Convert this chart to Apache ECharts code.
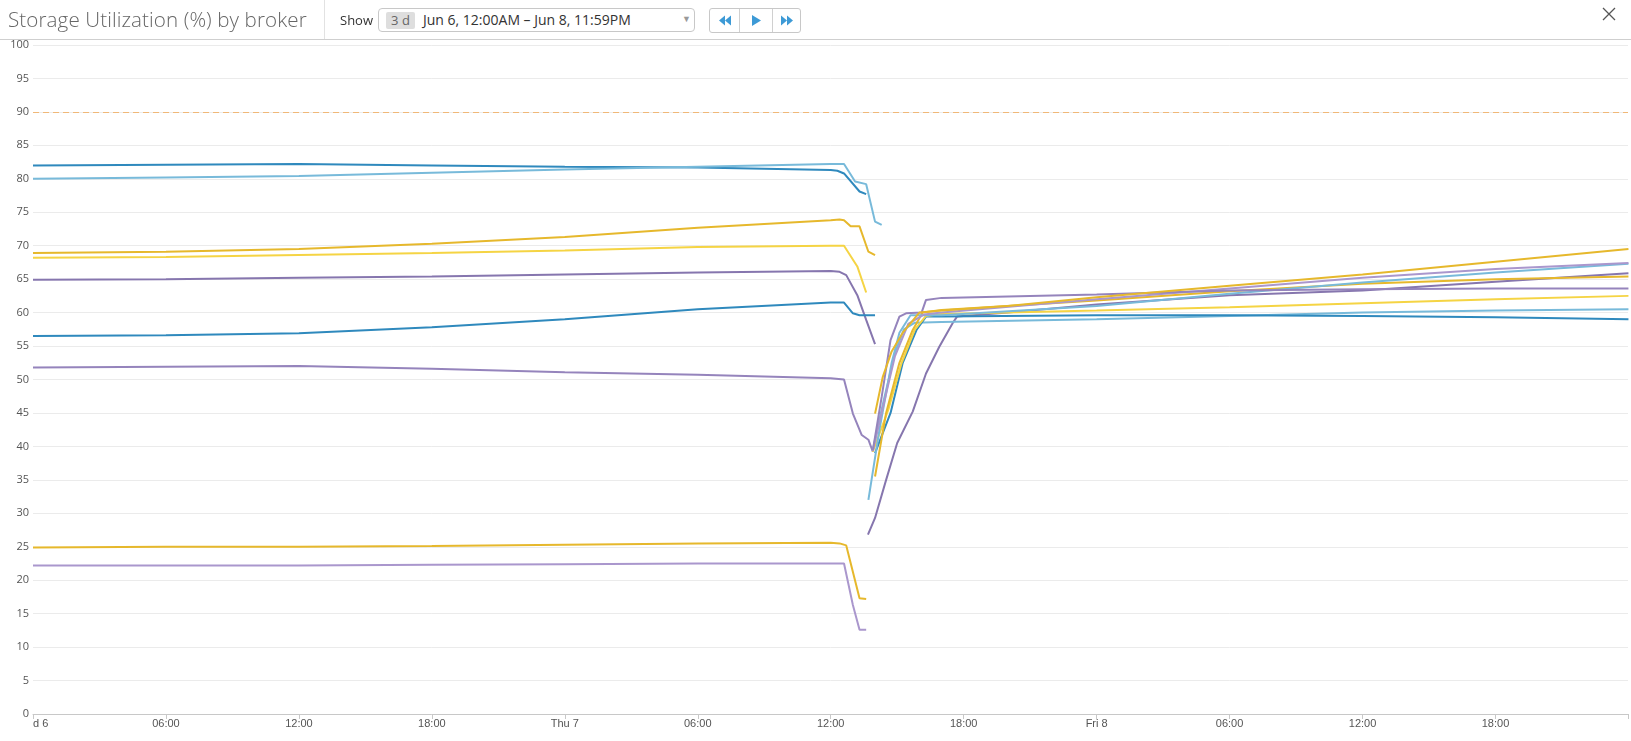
<!DOCTYPE html>
<html>
<head>
<meta charset="utf-8">
<script src="https://cdn.jsdelivr.net/npm/echarts@6/dist/echarts.min.js"></script>
<style>
  html, body { margin:0; padding:0; background:#fff; width:1631px; height:741px; overflow:hidden; font-family:"Open Sans", "Liberation Sans", sans-serif; }
  #chart { position:absolute; left:0; top:0; width:1631px; height:741px; }
  .hdr { position:absolute; z-index:2; }
  #title { left:8px; top:5px; font-size:20.6px; font-weight:300; color:#666; white-space:nowrap; letter-spacing:0.1px; }
  #vsep { left:324px; top:0; width:1px; height:39px; background:#e2e2e2; }
  #hline { left:0; top:39px; width:1631px; height:1px; background:#cfcfcf; }
  #show { left:340px; top:11px; font-size:13px; color:#333; }
  #drop { left:378px; top:8px; width:317px; height:24px; border:1px solid #c8c8c8; border-radius:4px; background:#fff; box-sizing:border-box; }
  #badge { left:386px; top:12px; width:29px; height:17px; background:#dedede; border-radius:2px; font-size:13px; color:#666; text-align:center; line-height:17px; }
  #range { left:423px; top:10px; font-size:14px; color:#333; white-space:nowrap; }
  #caret { left:682px; top:12px; font-size:9px; color:#999; }
  #btns { left:709px; top:8px; width:92px; height:25px; border:1px solid #c8c8c8; border-radius:3px; box-sizing:border-box; background:#fff; }
  .bsep { top:9px; width:1px; height:23px; background:#d0d0d0; }
  #close { left:1601px; top:6px; }
</style>
</head>
<body>
<div id="chart"></div>
<div class="hdr" id="title">Storage Utilization (%) by broker</div>
<div class="hdr" id="vsep"></div>
<div class="hdr" id="hline"></div>
<div class="hdr" id="show">Show</div>
<div class="hdr" id="drop"></div>
<div class="hdr" id="badge">3 d</div>
<div class="hdr" id="range">Jun 6, 12:00AM – Jun 8, 11:59PM</div>
<div class="hdr" id="caret">▼</div>
<div class="hdr" id="btns"></div>
<div class="hdr bsep" style="left:739px"></div>
<div class="hdr bsep" style="left:772px"></div>
<svg class="hdr" style="left:709px;top:8px" width="92" height="25">
  <polygon points="22,7.5 16,12.5 22,17.5" fill="#3d9ad6"/><polygon points="16,7.5 10,12.5 16,17.5" fill="#3d9ad6"/>
  <polygon points="43,7 52,12.5 43,18" fill="#3d9ad6"/>
  <polygon points="72,7.5 78,12.5 72,17.5" fill="#3d9ad6"/><polygon points="78,7.5 84,12.5 78,17.5" fill="#3d9ad6"/>
</svg>
<svg class="hdr" id="close" width="16" height="16"><path d="M2 2 L14 14 M14 2 L2 14" stroke="#555" stroke-width="1.3"/></svg>
<script>
// x values are hours since Jun 6 00:00
const xTickLabels = ['d 6','06:00','12:00','18:00','Thu 7','06:00','12:00','18:00','Fri 8','06:00','12:00','18:00'];
const threshold = 90;

// brokers before the restart
const oldBlueDark   = [[0,82.0],[6,82.1],[12,82.2],[18,82.0],[24,81.8],[30,81.7],[36,81.3],[36.3,81.2],[36.6,80.8],[37.3,78.1],[37.6,77.7]];
const oldLightBlue  = [[0,80.0],[6,80.2],[12,80.4],[18,80.9],[24,81.4],[30,81.8],[36,82.2],[36.6,82.2],[37.1,79.6],[37.6,79.2],[38.0,73.6],[38.3,73.1]];
const oldGold       = [[0,68.9],[6,69.1],[12,69.5],[18,70.3],[24,71.3],[30,72.7],[36,73.8],[36.4,73.9],[36.6,73.8],[36.9,72.9],[37.3,72.9],[37.7,69.1],[38.0,68.6]];
const oldYellow     = [[0,68.2],[6,68.3],[12,68.6],[18,68.9],[24,69.3],[30,69.8],[36,70.0],[36.6,70.0],[37.2,66.9],[37.6,63.0]];
const oldPurple65   = [[0,64.9],[6,65.0],[12,65.2],[18,65.4],[24,65.7],[30,66.0],[36,66.2],[36.4,66.1],[36.7,65.6],[37.2,62.6],[37.6,58.9],[38.0,55.3]];
const oldBlue56     = [[0,56.5],[6,56.6],[12,56.9],[18,57.8],[24,59.0],[30,60.5],[36,61.5],[36.6,61.5],[37.0,59.9],[37.3,59.6],[38.0,59.6]];
const oldPurple52   = [[0,51.8],[6,51.9],[12,52.0],[18,51.6],[24,51.1],[30,50.7],[36,50.2],[36.6,50.0],[37.0,44.9],[37.4,41.7],[37.7,41.0],[37.9,39.2]];
const oldGold25     = [[0,24.9],[6,25.0],[12,25.0],[18,25.1],[24,25.3],[30,25.5],[36,25.6],[36.4,25.5],[36.7,25.2],[37.3,17.3],[37.6,17.2]];
const oldPurple22   = [[0,22.2],[6,22.2],[12,22.2],[18,22.3],[24,22.4],[30,22.5],[36,22.5],[36.6,22.5],[37.0,16.3],[37.3,12.6],[37.6,12.6]];

// brokers after the restart
const newGold       = [[38.0,44.9],[38.35,50.4],[38.75,54.2],[39.25,57.0],[40.0,60.0],[41,60.3],[44,61.0],[48,62.3],[54,64.0],[60,65.7],[66,67.6],[72,69.5]];
const newYellowA    = [[38.0,35.5],[38.5,45.0],[39.1,52.5],[39.7,57.4],[40.15,60.0],[41,60.4],[48,61.8],[54,63.2],[60,64.3],[66,65.0],[72,65.4]];
const newYellowB    = [[37.9,39.2],[38.6,45.5],[39.2,52.5],[39.8,57.5],[40.3,59.5],[41,59.8],[48,60.3],[54,60.8],[60,61.4],[66,62.0],[72,62.5]];
const newLightBlueA = [[37.7,32.0],[38.2,42.5],[38.75,52.5],[39.1,57.0],[39.6,59.6],[41,59.6],[48,61.0],[54,62.8],[60,64.5],[66,66.0],[72,67.3]];
const newLightBlueB = [[37.9,39.5],[38.4,47.0],[38.9,54.0],[39.3,57.5],[39.8,58.5],[41,58.6],[48,59.0],[54,59.5],[60,60.0],[66,60.3],[72,60.5]];
const newBlue       = [[38.0,39.0],[38.7,45.0],[39.25,52.5],[39.87,57.4],[40.3,59.4],[41,59.4],[48,59.6],[54,59.6],[60,59.5],[66,59.3],[72,59.0]];
const newPurpleTop  = [[37.9,39.4],[38.3,47.4],[38.7,55.9],[39.1,59.4],[39.4,59.9],[40.1,60.0],[40.3,61.9],[41,62.2],[48,62.7],[54,63.3],[60,63.5],[66,63.6],[72,63.6]];
const newPurple67   = [[37.9,39.3],[38.4,46.5],[38.9,53.5],[39.5,58.3],[40.2,59.7],[41,60.0],[48,62.0],[54,63.6],[60,65.2],[66,66.5],[72,67.4]];
const newPurpleLate = [[37.68,26.8],[38.0,29.3],[38.5,35.0],[39.0,40.5],[39.7,45.2],[40.3,50.9],[40.9,54.9],[41.5,58.4],[41.7,59.4],[44,60.0],[48,61.2],[54,62.6],[60,63.3],[66,64.6],[72,65.9]];

const C = {
  blueDark:'#2f89bd', lightBlue:'#78bada', gold:'#e6b82c', yellow:'#f5d444',
  purpleDark:'#8676ae', purple:'#9584bc', purpleLight:'#aa97cd'
};

const seriesDefs = [
  [oldBlueDark, C.blueDark], [oldLightBlue, C.lightBlue], [oldGold, C.gold], [oldYellow, C.yellow],
  [oldPurple65, C.purpleDark], [oldBlue56, C.blueDark], [oldPurple52, C.purple], [oldGold25, C.gold],
  [oldPurple22, C.purpleLight],
  [newPurpleLate, C.purpleDark], [newLightBlueB, C.lightBlue], [newBlue, C.blueDark], [newYellowB, C.yellow],
  [newYellowA, C.gold], [newLightBlueA, C.lightBlue], [newPurple67, C.purpleLight], [newPurpleTop, C.purple],
  [newGold, C.gold]
];

const series = seriesDefs.map(([data, color], i) => ({
  type:'line', data, showSymbol:false, symbol:'none', silent:true,
  lineStyle:{ width:2, color }, itemStyle:{ color },
  z: 2,
  markLine: i === 0 ? {
    silent:true, symbol:'none', label:{show:false},
    lineStyle:{ color:'#f0b878', type:[6,4], width:1 },
    data:[{ yAxis: threshold }]
  } : undefined
}));

const chart = echarts.init(document.getElementById('chart'), null, { renderer:'canvas' });
chart.setOption({
  animation:false,
  backgroundColor:'#fff',
  grid:{ left:33, right:3, top:45, bottom:27, containLabel:false },
  xAxis:{
    type:'value', min:0, max:71.98, interval:6,
    axisLine:{ show:true, lineStyle:{ color:'#c8c8c8' } },
    axisTick:{ show:true, length:5, lineStyle:{ color:'#c8c8c8' } },
    splitLine:{ show:false },
    axisLabel:{
      color:'#555', fontSize:11, fontFamily:'"Liberation Sans Narrow", "Liberation Sans", sans-serif', margin:4,
      alignMinLabel:'left',
      formatter: v => xTickLabels[Math.round(v/6)] ?? ''
    }
  },
  yAxis:{
    type:'value', min:0, max:100, interval:5,
    axisLine:{ show:false }, axisTick:{ show:false },
    splitLine:{ lineStyle:{ color:'#ebebeb', width:1 } },
    axisLabel:{ color:'#555', fontSize:11, fontFamily:'"Open Sans", sans-serif', margin:4 }
  },
  series
});
</script>
</body>
</html>
